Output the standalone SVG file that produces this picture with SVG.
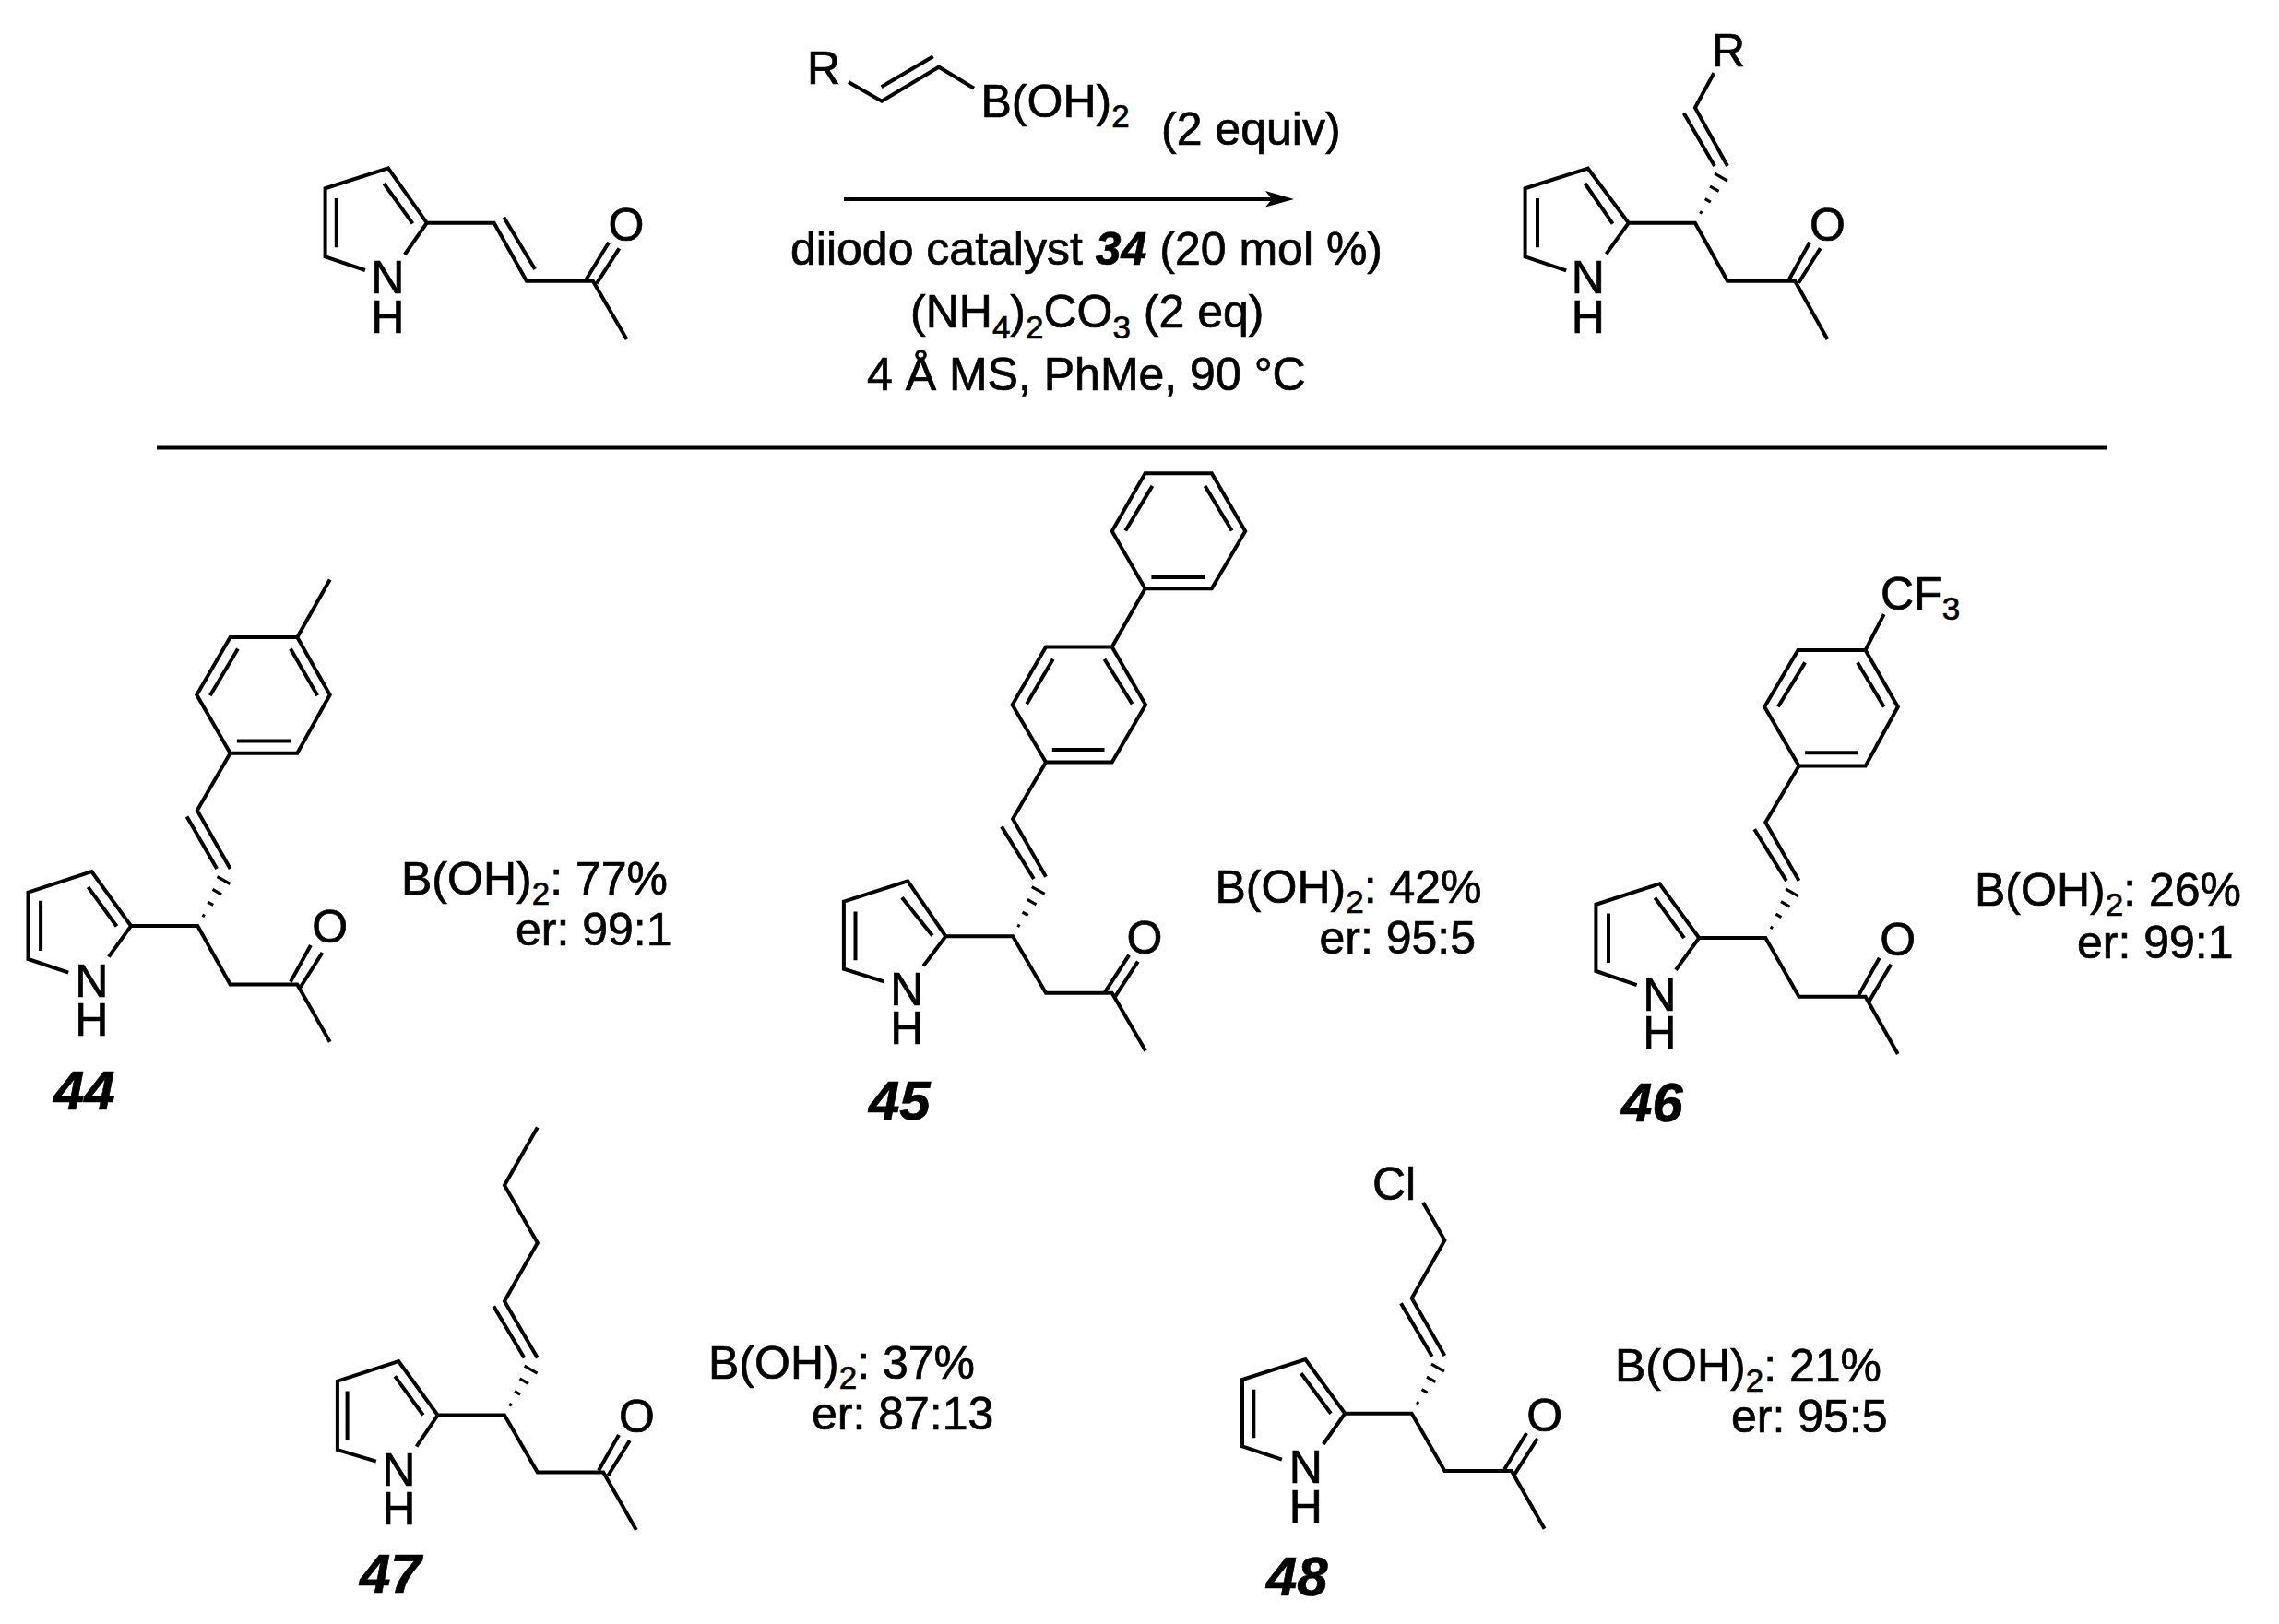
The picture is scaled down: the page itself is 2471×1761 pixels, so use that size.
<svg xmlns="http://www.w3.org/2000/svg" xmlns:xlink="http://www.w3.org/1999/xlink" width="2471" height="1761" viewBox="0 0 2471 1761">
<style>
.b{fill:none;stroke:#000;stroke-width:4;stroke-linejoin:miter;stroke-linecap:butt}
.t{font-family:"Liberation Sans",Arial,sans-serif;font-size:50px;fill:#000;stroke:#000;stroke-width:.7px}
.c{text-anchor:middle}
.l{font-family:"Liberation Sans",Arial,sans-serif;font-size:60px;font-weight:bold;font-style:italic;fill:#000;stroke:#000;stroke-width:.7px}
.bi{font-weight:bold;font-style:italic}
.s{font-size:35px}
</style>
<defs>
<g id="hash" class="b" style="stroke-width:3.2">
<path d="M13-1.5V1.5M28-3.5V3.5M42.5-5.5V5.5M57-8V8"/>
</g>
</defs>
<rect width="2471" height="1761" fill="#fff"/>

<g id="rule"><path class="b" d="M170 485.4H2284"/></g>

<g id="arrow">
<path class="b" d="M915 216H1380"/>
<polygon points="1403,216 1372,207 1379,216 1372,224.5" fill="#000"/>
</g>

<g id="conditions">
<text class="t" x="857" y="287">diiodo catalyst <tspan class="bi">34</tspan> (20 mol %)</text>
<text class="t" x="987" y="355">(NH<tspan class="s" dy="12">4</tspan><tspan dy="-12">)</tspan><tspan class="s" dy="12">2</tspan><tspan dy="-12">CO</tspan><tspan class="s" dy="12">3</tspan><tspan dy="-12"> (2 eq)</tspan></text>
<text class="t" x="940" y="422.7">4 Å MS, PhMe, 90 °C</text>
</g>

<g id="reagent">
<path class="b" d="M920 89L956 109.7L1018 72.7L1056 95.7M955.6 94.3L1011.7 61.3"/>
<text class="t" x="875" y="91">R</text>
<text class="t" x="1063.5" y="127">B(OH)<tspan class="s" dy="11">2</tspan></text>
<text class="t" x="1259" y="157">(2 equiv)</text>
</g>

<g id="substrate">
<path class="b" d="M395.9 293L352.6 278.3V204.3L420.9 182.3L462.8 241.7L438.8 276M416.3 199L447.4 242.3M364.8 215V268.3"/>
<path class="b" d="M462.8 241.7H535.7L570.9 304.7H642.9L679.6 368M546.4 235.7L580.1 292M635.7 302.7L660.2 262.7M646.9 307.3L671.4 269.3"/>
<text class="t c" x="679" y="261">O</text>
<text class="t c" x="420.4" y="318">N</text>
<text class="t c" x="420.4" y="361">H</text>
</g>

<g id="product">
<path class="b" d="M1698.2 293.3L1653.6 278.3V204.3L1721.8 182.7L1765.8 241.7L1741.6 275.3M1718.6 199L1748.6 242.7M1667 215V268.3"/>
<path class="b" d="M1765.8 241.7H1837.9L1873 304.7H1946.3L1981.4 368M1940 302.7L1962.2 262.7M1950.1 306.7L1973.7 269.3"/>
<path class="b" d="M1873 180L1837.9 116.7L1858.3 79.3M1825.7 122.7L1859 180"/>
<use href="#hash" xlink:href="#hash" transform="translate(1837.9 241.7) rotate(-60.4)"/>
<text class="t c" x="1981.4" y="261">O</text>
<text class="t c" x="1721.8" y="318">N</text>
<text class="t c" x="1721.8" y="361">H</text>
<text class="t c" x="1874" y="72">R</text>
</g>

<g id="compound-44">
<path class="b" d="M74.2 1054.7L30.5 1040V967.7L99.4 945.2L142 1004.1L117.8 1037.7M95.5 961.8L126.5 1004.5M44.1 976.8V1031"/>
<path class="b" d="M142 1004.1H214.3L249.6 1067.4H322.3L357.7 1129.8M315 1064.6L336.9 1025M325.7 1070.5L349.5 1033"/>
<path class="b" d="M249.6 942L213.8 878.8L249.6 816.7M202.6 885.5L235.1 942"/>
<path class="b" d="M249.6 816.7H322.3L357.7 753.4L322.3 691H249.6L213.3 753.4ZM256.9 803.6H315M257.9 703.6L227.8 754.2M315 703.6L344.2 754.2M322.3 691L357.7 628.5"/>
<use href="#hash" xlink:href="#hash" transform="translate(214.3 1004.1) rotate(-60.4)"/>
<text class="t c" x="357.7" y="1022">O</text>
<text class="t c" x="99.4" y="1081">N</text>
<text class="t c" x="99.4" y="1122.7">H</text>
<text class="t" x="435" y="969.7">B(OH)<tspan class="s" dy="11">2</tspan><tspan dy="-11">: 77%</tspan></text>
<text class="t" x="559" y="1025">er: 99:1</text>
<text class="l" x="58" y="1203">44</text>
</g>

<g id="compound-45">
<path class="b" d="M958.5 1064.4L914.9 1050.7V977.6L984.2 955.4L1025.4 1015.3L1001.2 1047.4M977.9 973.3L1010.9 1014.4M927.5 988.4V1041.3"/>
<path class="b" d="M1025.4 1015.3H1098.1L1134 1076.7H1205.7L1242.1 1139.5M1197.5 1076.7L1224.2 1035.6M1208.6 1081.4L1233.8 1042.7"/>
<path class="b" d="M1134 950.7L1098.1 887.9L1134 826.6M1086 896.4L1120.9 953"/>
<path class="b" d="M1134 826.6H1205.7L1242.1 764.3L1205.7 701.5H1134L1097.6 764.3ZM1140.8 812.9H1197.5M1141.8 714.7L1113.2 763.3M1197.5 714.7L1227.6 763.3"/>
<path class="b" d="M1205.7 701.5L1241.6 638.3"/>
<path class="b" d="M1241.6 638.3H1313.8L1350.2 576L1313.8 513.2H1241.6L1205.7 576ZM1248.4 626H1306.6M1249.4 526.9L1220.3 575.5M1306.6 526.9L1335.6 575.5"/>
<use href="#hash" xlink:href="#hash" transform="translate(1098.1 1015.3) rotate(-61)"/>
<text class="t c" x="1241" y="1034">O</text>
<text class="t c" x="983.2" y="1090">N</text>
<text class="t c" x="983.2" y="1132">H</text>
<text class="t" x="1317.5" y="979">B(OH)<tspan class="s" dy="11">2</tspan><tspan dy="-11">: 42%</tspan></text>
<text class="t" x="1430.5" y="1034.2">er: 95:5</text>
<text class="l" x="942" y="1214">45</text>
</g>

<g id="compound-46">
<path class="b" d="M1774.7 1068.2L1730.4 1053V980.8L1799.4 958.4L1842.2 1017.1L1817 1051.8M1794.4 973.5L1826.1 1017.1M1744 990.6V1044"/>
<path class="b" d="M1842.2 1017.1H1914.3L1950.5 1080.8H2022.6L2057.8 1142.9M2015 1079.6L2037.7 1038.8M2026.6 1085.7L2050.3 1045.7"/>
<path class="b" d="M1950.5 955.1L1914.3 891.8L1950.5 830.6M1902.2 899.2L1936.9 955.1"/>
<path class="b" d="M1950.5 830.6H2022.6L2057.8 766.5L2022.6 704.9H1949.5L1913.2 766.5ZM1957.1 816.3H2015M1957.1 718.4L1927.9 766.5M2014 718.4L2042.7 766.5M2022.6 704.9L2042.7 666.1"/>
<use href="#hash" xlink:href="#hash" transform="translate(1914.3 1017.1) rotate(-59.7)"/>
<text class="t c" x="2057.8" y="1036">O</text>
<text class="t c" x="1799.4" y="1096">N</text>
<text class="t c" x="1799.4" y="1137">H</text>
<text class="t" x="2039" y="661">CF<tspan class="s" dy="11">3</tspan></text>
<text class="t" x="2141" y="982.4">B(OH)<tspan class="s" dy="11">2</tspan><tspan dy="-11">: 26%</tspan></text>
<text class="t" x="2252" y="1038.8">er: 99:1</text>
<text class="l" x="1758" y="1216">46</text>
</g>

<g id="compound-47">
<path class="b" d="M407.8 1584.6L365.9 1572.1V1497.7L432.2 1476.2L474.6 1534.5L451.6 1568.5M428.2 1492.3L458.8 1534.5M376.6 1508.4V1561.4"/>
<path class="b" d="M474.6 1534.5H547L582.8 1596.4H654.2L689.9 1659M649.1 1594.6L671 1556M659.3 1600L682.8 1562.1"/>
<path class="b" d="M582.8 1472.6L547 1411.1L582.8 1347.8L547 1285.2L582.8 1222.5M535.3 1416.5L568.5 1472.6"/>
<use href="#hash" xlink:href="#hash" transform="translate(547 1534.5) rotate(-59.9)"/>
<text class="t c" x="690.4" y="1553">O</text>
<text class="t c" x="432.2" y="1611">N</text>
<text class="t c" x="432.2" y="1653">H</text>
<text class="t" x="768" y="1495.2">B(OH)<tspan class="s" dy="11">2</tspan><tspan dy="-11">: 37%</tspan></text>
<text class="t" x="880" y="1550">er: 87:13</text>
<text class="l" x="390" y="1727">47</text>
</g>

<g id="compound-48">
<path class="b" d="M1389.9 1582.7L1347 1568.3V1496L1415.4 1474L1458.3 1532.7L1434.8 1566M1410.8 1489.3L1443 1532.7M1359.3 1506.7V1559.3"/>
<path class="b" d="M1458.3 1532.7H1530.7L1566.4 1595H1638.9L1674.6 1657.7M1631.2 1593.3L1655.2 1554M1642.4 1598.3L1666.9 1560"/>
<path class="b" d="M1566.4 1470L1530.7 1407.7L1566.4 1345L1543 1304M1519 1413.3L1552.7 1470.7"/>
<use href="#hash" xlink:href="#hash" transform="translate(1530.7 1532.7) rotate(-60.3)"/>
<text class="t c" x="1674.6" y="1552">O</text>
<text class="t c" x="1415.9" y="1608">N</text>
<text class="t c" x="1415.9" y="1651">H</text>
<text class="t" x="1488" y="1301">Cl</text>
<text class="t" x="1751" y="1498.3">B(OH)<tspan class="s" dy="11">2</tspan><tspan dy="-11">: 21%</tspan></text>
<text class="t" x="1877" y="1553.3">er: 95:5</text>
<text class="l" x="1373" y="1730">48</text>
</g>
</svg>
